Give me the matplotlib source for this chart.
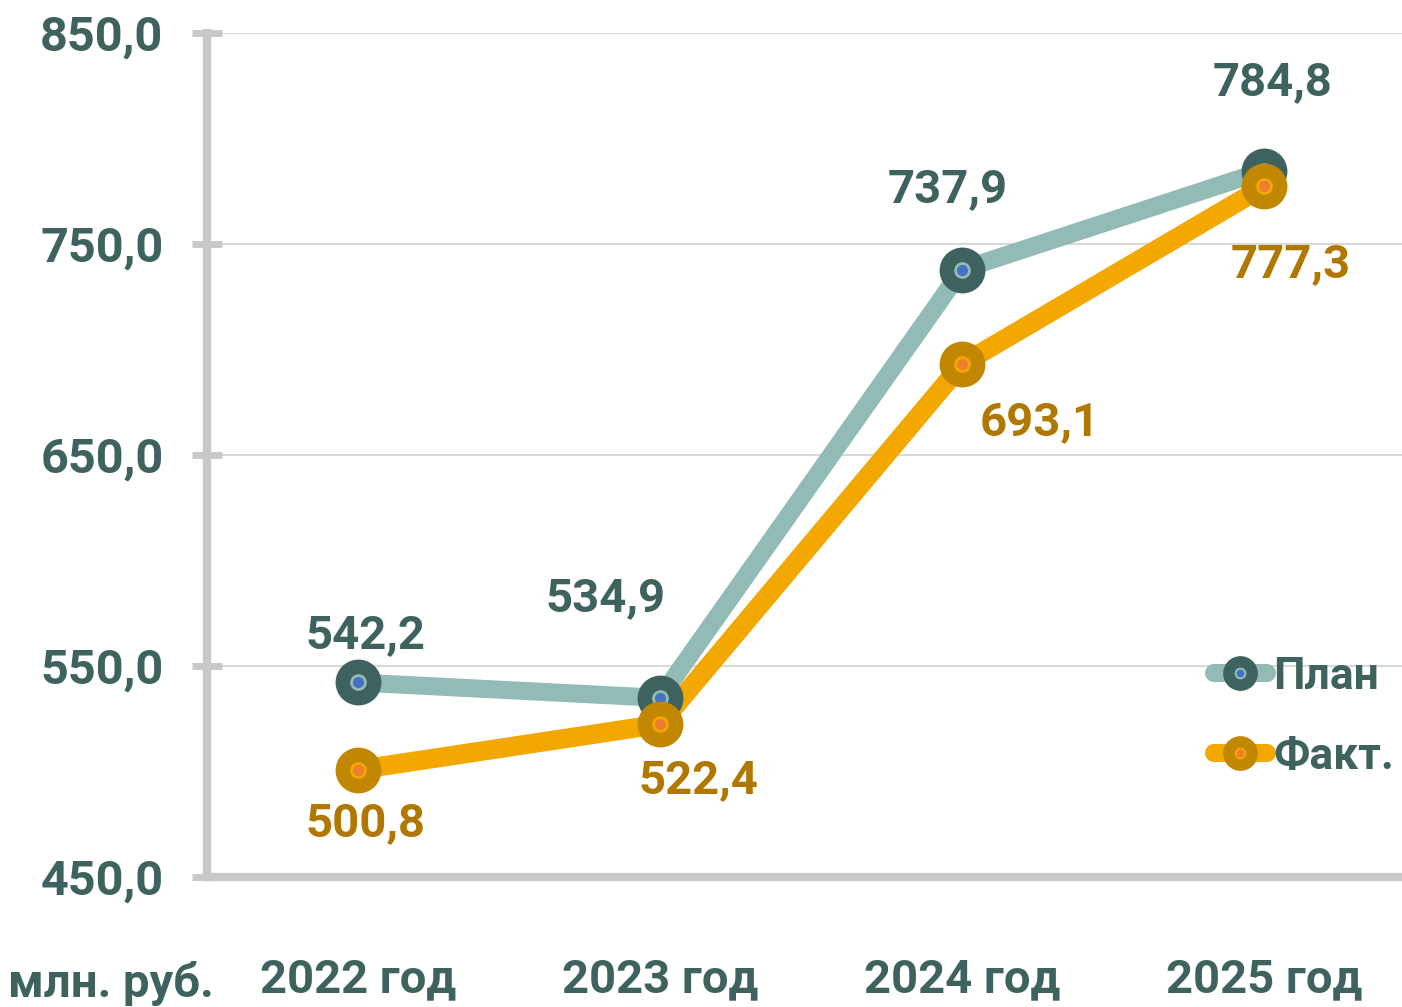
import matplotlib.pyplot as plt
from matplotlib.legend_handler import HandlerTuple
from matplotlib.lines import Line2D

# Data
years = ['2022 год', '2023 год', '2024 год', '2025 год']
plan = [542.2, 534.9, 737.9, 784.8]
fact = [500.8, 522.4, 693.1, 777.3]
y_ticks = [450, 550, 650, 750, 850]

# label offsets in pixels (dx, dy)
plan_offsets = [(8, 47), (-54, 100), (-14, 80), (8, 88)]
fact_offsets = [(8, -53), (39, -56), (78, -58), (26, -78)]

TEAL_DARK = '#3e625e'
TEAL_LINE = '#93bbb6'
GOLD_LINE = '#f2a800'
GOLD_DARK = '#c18700'
GOLD_TEXT = '#b07800'
GREY = '#c8c8c8'

plt.rcParams['font.family'] = ['Roboto', 'DejaVu Sans']
plt.rcParams['font.weight'] = 'bold'
FS = 34

fig = plt.figure(figsize=(14.02, 10.07), dpi=100)
ax = fig.add_axes([206.5 / 1402, 130 / 1007, 1209 / 1402, 844 / 1007])

x = range(len(years))
ax.plot(x, plan, color=TEAL_LINE, lw=13, solid_capstyle='butt', zorder=2)
ax.plot(x, fact, color=GOLD_LINE, lw=14, solid_capstyle='butt', zorder=3)

# markers: big dark circle + small coloured center
ax.plot(x, plan, ls='none', marker='o', ms=32, mfc=TEAL_DARK, mec=TEAL_DARK, zorder=4)
ax.plot(x, plan, ls='none', marker='o', ms=10, mfc='#4472c4', mec=TEAL_LINE, mew=2, zorder=5)
ax.plot(x, fact, ls='none', marker='o', ms=32, mfc=GOLD_DARK, mec=GOLD_DARK, zorder=6)
ax.plot(x, fact, ls='none', marker='o', ms=10, mfc='#ed7d31', mec=GOLD_LINE, mew=2, zorder=7)

for i, v in enumerate(plan):
    dx, dy = plan_offsets[i]
    ax.annotate(f'{v:.1f}'.replace('.', ','), (i, v), xytext=(dx * 0.72, dy * 0.72),
                textcoords='offset points', ha='center', va='center',
                fontsize=FS, color=TEAL_DARK, zorder=8)
for i, v in enumerate(fact):
    dx, dy = fact_offsets[i]
    ax.annotate(f'{v:.1f}'.replace('.', ','), (i, v), xytext=(dx * 0.72, dy * 0.72),
                textcoords='offset points', ha='center', va='center',
                fontsize=FS, color=GOLD_TEXT, zorder=8)

ax.set_xlim(-0.5, 3.5)
ax.set_ylim(450, 850)
ax.set_yticks(y_ticks)
ax.set_yticklabels([f'{t:.1f}'.replace('.', ',') for t in y_ticks],
                   fontsize=FS + 1, color=TEAL_DARK)
ax.set_xticks(list(x))
ax.set_xticklabels(years, fontsize=FS, color=TEAL_DARK)
ax.tick_params(axis='y', direction='inout', length=22, width=5, color=GREY, pad=20)
ax.tick_params(axis='x', length=0, pad=58)
ax.grid(axis='y', color='#d9d9d9', lw=1.5, zorder=0)
ax.set_axisbelow(True)

for side in ['top', 'right']:
    ax.spines[side].set_visible(False)
ax.spines['left'].set_color(GREY)
ax.spines['left'].set_linewidth(6)
ax.spines['bottom'].set_color(GREY)
ax.spines['bottom'].set_linewidth(6)

fig.text(8 / 1402, 1 - 983 / 1007, 'млн. руб.', fontsize=FS, color=TEAL_DARK,
         ha='left', va='center')

# legend: line + dark circle + small coloured dot, all overlaid
h_plan = (Line2D([], [], color=TEAL_LINE, lw=13, solid_capstyle='round'),
          Line2D([], [], ls='none', marker='o', ms=24, mfc=TEAL_DARK, mec=TEAL_DARK),
          Line2D([], [], ls='none', marker='o', ms=7, mfc='#4472c4', mec=TEAL_LINE, mew=1.5))
h_fact = (Line2D([], [], color=GOLD_LINE, lw=13, solid_capstyle='round'),
          Line2D([], [], ls='none', marker='o', ms=24, mfc=GOLD_DARK, mec=GOLD_DARK),
          Line2D([], [], ls='none', marker='o', ms=7, mfc='#ed7d31', mec=GOLD_LINE, mew=1.5))
leg = ax.legend([h_plan, h_fact], ['План', 'Факт.'],
                handler_map={tuple: HandlerTuple(ndivide=1, pad=0)},
                loc='center left', bbox_to_anchor=(0.833, 0.19),
                frameon=False, fontsize=FS - 2, handlelength=1.2, handletextpad=0.15,
                labelspacing=0.85, borderaxespad=0, borderpad=0)
for t in leg.get_texts():
    t.set_color(TEAL_DARK)

fig.savefig('out.png', dpi=100)
